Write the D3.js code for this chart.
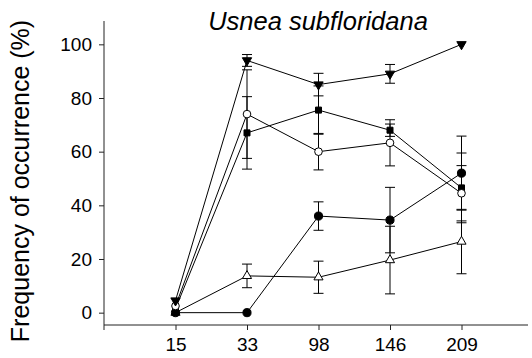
<!DOCTYPE html>
<html>
<head>
<meta charset="utf-8">
<script src="https://cdn.jsdelivr.net/npm/d3@7"></script>
<style>
  html, body { margin: 0; padding: 0; background: #fff; }
  svg { display: block; font-family: "Liberation Sans", Arial, sans-serif; }
</style>
</head>
<body>
<svg id="chart" width="532" height="358"></svg>
<script>
// Categories (x axis) and tick labels
const doses = ["15", "33", "98", "146", "209"];
const yTicks = [0, 20, 40, 60, 80, 100];

// Series means (%) and error half-widths
const triDownVals   = [4.5, 94, 85, 89, 100];
const triDownErr    = [0, 2.2, 4.2, 3.5, 0];
const openCircVals  = [2.5, 74, 60, 63.3, 44.5];
const openCircErr   = [0, 16.5, 6.8, 8.6, 10.3];
const squareVals    = [1.5, 67, 75.5, 68, 46.5];
const squareErr     = [0, 13.5, 9, 2.3, 13];
const fillCircVals  = [0, 0, 36, 34.5, 52];
const fillCircErr   = [0, 0, 5.3, 12.2, 13.8];
const triUpVals     = [0, 13.7, 13.2, 19.6, 26.5];
const triUpErr      = [0, 4.4, 6, 12.6, 12];

const series = [
  { vals: triUpVals,    err: triUpErr,    shape: d3.symbolTriangle, size: 36, fill: "#fff", rot: 0 },
  { vals: fillCircVals, err: fillCircErr, shape: d3.symbolCircle,   size: 52, fill: "#000", rot: 0 },
  { vals: squareVals,   err: squareErr,   shape: d3.symbolSquare,   size: 36, fill: "#000", rot: 0 },
  { vals: openCircVals, err: openCircErr, shape: d3.symbolCircle,   size: 46, fill: "#fff", rot: 0 },
  { vals: triDownVals,  err: triDownErr,  shape: d3.symbolTriangle, size: 38, fill: "#000", rot: 180 }
];

const svg = d3.select("#chart");

const plotLeft = 104, plotRight = 528, plotTop = 21, plotBottom = 325;

const x = d3.scaleLinear().domain([-1, 5]).range([plotLeft, 533]);
const y = d3.scaleLinear().domain([-4.6, 108.7]).range([plotBottom, plotTop]);

const axisColor = "#222";

// Y axis
const yAxis = svg.append("g")
  .attr("transform", `translate(${plotLeft},0)`)
  .call(d3.axisLeft(y).tickValues(yTicks).tickSize(5).tickPadding(7).tickFormat(d3.format("d")));
yAxis.select(".domain").remove();
yAxis.selectAll(".tick line").attr("stroke", axisColor);
yAxis.selectAll(".tick text").attr("font-size", 19).attr("fill", "#000")
  .attr("font-family", "Liberation Sans, Arial, sans-serif");
svg.append("line")
  .attr("x1", plotLeft).attr("x2", plotLeft).attr("y1", plotTop).attr("y2", plotBottom + 5)
  .attr("stroke", axisColor).attr("stroke-width", 1);

// X axis
const xAxis = svg.append("g")
  .attr("transform", `translate(0,${plotBottom})`)
  .call(d3.axisBottom(x).tickValues(d3.range(doses.length)).tickSize(5).tickPadding(8)
    .tickFormat(i => doses[i]));
xAxis.select(".domain").remove();
xAxis.selectAll(".tick line").attr("stroke", axisColor);
xAxis.selectAll(".tick text").attr("font-size", 19).attr("fill", "#000")
  .attr("font-family", "Liberation Sans, Arial, sans-serif");
svg.append("line")
  .attr("x1", plotLeft).attr("x2", plotRight).attr("y1", plotBottom).attr("y2", plotBottom)
  .attr("stroke", axisColor).attr("stroke-width", 1);

// Connecting lines
const line = d3.line().x((d, i) => x(i)).y(d => y(d));
series.forEach(s => {
  svg.append("path").attr("d", line(s.vals))
    .attr("fill", "none").attr("stroke", "#000").attr("stroke-width", 1);
});

// Error bars
const cap = 5;
series.forEach(s => {
  const g = svg.append("g").attr("stroke", "#000").attr("stroke-width", 1);
  s.vals.forEach((v, i) => {
    const e = s.err[i];
    if (!e) return;
    const cx = x(i), y1 = y(v + e), y2 = y(v - e);
    g.append("line").attr("x1", cx).attr("x2", cx).attr("y1", y1).attr("y2", y2);
    g.append("line").attr("x1", cx - cap).attr("x2", cx + cap).attr("y1", y1).attr("y2", y1);
    g.append("line").attr("x1", cx - cap).attr("x2", cx + cap).attr("y1", y2).attr("y2", y2);
  });
});

// Markers
series.forEach(s => {
  const sym = d3.symbol().type(s.shape).size(s.size);
  svg.append("g").selectAll("path").data(s.vals).join("path")
    .attr("d", sym)
    .attr("transform", (d, i) => `translate(${x(i)},${y(d)}) rotate(${s.rot})`)
    .attr("fill", s.fill).attr("stroke", "#000").attr("stroke-width", 1);
});

// Title
svg.append("text")
  .attr("x", 318).attr("y", 30)
  .attr("text-anchor", "middle")
  .attr("font-size", 25.5).attr("font-style", "italic")
  .text("Usnea subfloridana");

// Y axis label
svg.append("text")
  .attr("transform", `translate(29,${(plotTop + plotBottom) / 2 + 8}) rotate(-90)`)
  .attr("text-anchor", "middle")
  .attr("font-size", 25)
  .text("Frequency of occurrence (%)");
</script>
</body>
</html>
